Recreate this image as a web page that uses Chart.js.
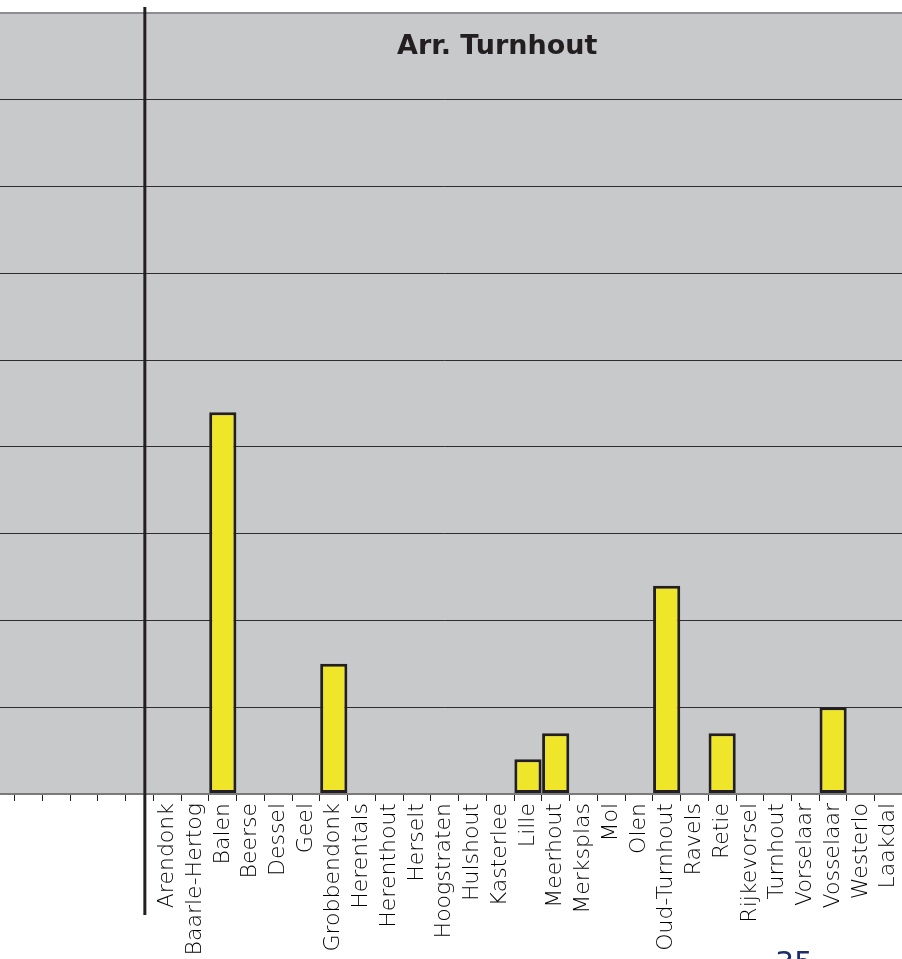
<!DOCTYPE html>
<html>
<head>
<meta charset="utf-8">
<script src="https://cdn.jsdelivr.net/npm/chart.js@4.4.1/dist/chart.umd.min.js"></script>
<style>
  html, body { margin: 0; padding: 0; background: #ffffff; overflow: hidden; width: 902px; height: 959px; }
  #wrap { position: absolute; left: -13px; top: 0; width: 930px; height: 959px; }
  #pagenum { position: absolute; left: 775px; top: 948px; font-family: "DejaVu Sans", sans-serif; font-size: 30px; color: #1d2c6b; line-height: 1; }
</style>
</head>
<body>
<div id="wrap"><canvas id="c" width="930" height="959"></canvas></div>
<div id="pagenum">35</div>
<script>
// ---- data ----
const chartTitle = "Arr. Turnhout";
const leadingBlanks = ["", "", "", "", "", ""];
const municipalities = ["Arendonk", "Baarle-Hertog", "Balen", "Beerse", "Dessel", "Geel", "Grobbendonk",
  "Herentals", "Herenthout", "Herselt", "Hoogstraten", "Hulshout", "Kasterlee", "Lille", "Meerhout",
  "Merksplas", "Mol", "Olen", "Oud-Turnhout", "Ravels", "Retie", "Rijkevorsel", "Turnhout",
  "Vorselaar", "Vosselaar", "Westerlo", "Laakdal"];
const values = [0, 0, 4.4, 0, 0, 0, 1.5,
  0, 0, 0, 0, 0, 0, 0.4, 0.7,
  0, 0, 0, 2.4, 0, 0.7, 0, 0,
  0, 1.0, 0, 0];
const yMin = 0, yMax = 9, yStep = 1;

const labels = leadingBlanks.concat(municipalities);
const data = leadingBlanks.map(() => null).concat(values.map(v => v === 0 ? null : v));

const bgPlugin = {
  id: 'bg',
  beforeDraw(chart) {
    const { ctx, chartArea: a } = chart;
    ctx.save();
    ctx.fillStyle = '#c8c9cb';
    ctx.fillRect(a.left, a.top, a.right - a.left, a.bottom - a.top);
    ctx.restore();
  },
  afterDraw(chart) {
    const { ctx, chartArea: a } = chart;
    const xs = chart.scales.x;
    const step = xs.getPixelForValue(1) - xs.getPixelForValue(0);
    const xLine = xs.getPixelForValue(leadingBlanks.length - 1) + 0.19 * step;
    ctx.save();
    ctx.strokeStyle = '#231f20';
    ctx.lineWidth = 3;
    ctx.beginPath();
    ctx.moveTo(xLine, a.top - 6);
    ctx.lineTo(xLine, a.bottom + 121);
    ctx.stroke();
    ctx.fillStyle = '#231f20';
    ctx.font = 'bold 27px "DejaVu Sans", sans-serif';
    ctx.textAlign = 'center';
    ctx.textBaseline = 'middle';
    ctx.fillText(chartTitle, (a.left + a.right) / 2 + 52.5, a.top + 34);
    ctx.restore();
  }
};

new Chart(document.getElementById('c'), {
  type: 'bar',
  data: {
    labels: labels,
    datasets: [{
      data: data,
      backgroundColor: '#efe629',
      borderColor: '#231f20',
      borderWidth: 3,
      borderSkipped: false,
      barPercentage: 0.98,
      categoryPercentage: 1.0
    }]
  },
  options: {
    responsive: false,
    animation: false,
    layout: { padding: { top: 13, left: 0, right: 0, bottom: 0 } },
    plugins: { legend: { display: false }, tooltip: { enabled: false }, title: { display: false } },
    scales: {
      x: {
        offset: true,
        afterFit(scale) { scale.height = 165; },
        border: { display: false },
        grid: {
          offset: true,
          drawOnChartArea: false,
          drawTicks: true,
          tickLength: 7,
          color: '#231f20',
          lineWidth: 1
        },
        ticks: {
          autoSkip: false,
          maxRotation: 90,
          minRotation: 90,
          padding: 2,
          color: '#000000',
          font: { family: '"DejaVu Sans", sans-serif', size: 22, weight: 200 }
        }
      },
      y: {
        min: yMin,
        max: yMax,
        afterFit(scale) { scale.width = 0; },
        border: { display: false },
        ticks: { display: false, stepSize: yStep },
        grid: {
          drawTicks: false,
          color(ctx) {
            const v = ctx.tick && ctx.tick.value;
            if (v === yMax) return '#8e8e90';
            if (v === yMin) return '#7a7a7c';
            return '#2e2c2e';
          },
          lineWidth(ctx) {
            const v = ctx.tick && ctx.tick.value;
            return (v === yMax || v === yMin) ? 2 : 1;
          }
        }
      }
    }
  },
  plugins: [bgPlugin]
});
</script>
</body>
</html>
